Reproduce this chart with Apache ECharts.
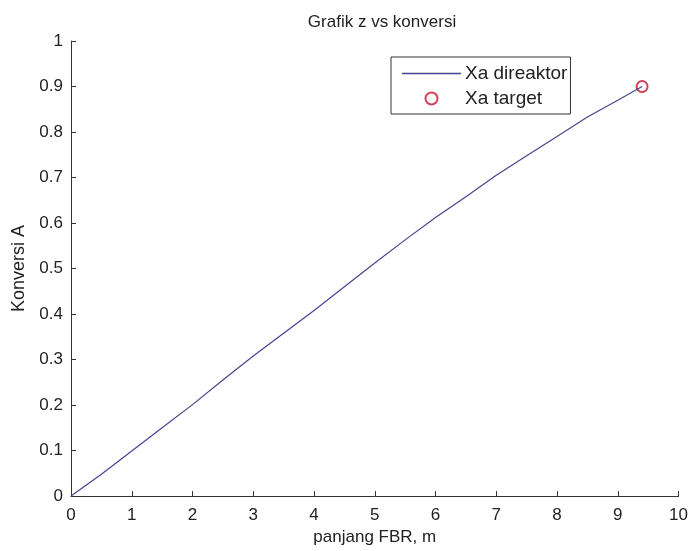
<!DOCTYPE html>
<html>
<head>
<meta charset="utf-8">
<script src="https://cdn.jsdelivr.net/npm/echarts@6/dist/echarts.min.js"></script>
<style>html,body{margin:0;padding:0;background:#fff}#c{width:691px;height:551px}</style>
</head>
<body>
<div id="c"></div>
<script>
var xLen = [0, 0.5, 1, 1.5, 2, 2.5, 3, 3.5, 4, 4.5, 5, 5.5, 6, 6.5, 7, 7.5, 8, 8.5, 9, 9.4];
var xaReaktor = [0, 0.048, 0.099, 0.150, 0.201, 0.255, 0.308, 0.358, 0.408, 0.460, 0.512, 0.563, 0.612, 0.658, 0.705, 0.748, 0.790, 0.833, 0.870, 0.900];
var targetX = [9.4];
var targetY = [0.9];

var lineData = xLen.map(function (x, i) { return [x, xaReaktor[i]]; });
var targetData = targetX.map(function (x, i) { return [x, targetY[i]]; });

var font = 'Liberation Sans, Arial, sans-serif';
var lineColor = '#45458f';
var markColor = '#c8102e';
var chart = echarts.init(document.getElementById('c'));
chart.setOption({
  backgroundColor: '#fff',
  animation: false,
  title: {
    text: 'Grafik z vs konversi',
    left: 377, top: 9, textAlign: 'center',
    textStyle: { fontFamily: font, fontSize: 17, fontWeight: 'normal', color: '#222' }
  },
  legend: {
    left: 391, top: 57, orient: 'vertical',
    padding: [7, 3, 6, 11],
    itemGap: 6,
    itemWidth: 59, itemHeight: 12,
    borderColor: '#333', borderWidth: 1,
    backgroundColor: '#fff',
    textStyle: { fontFamily: font, fontSize: 19, color: '#222', padding: [0, 0, 0, -1] },
    data: [
      { name: 'Xa direaktor', icon: 'path://M0,0H60V1.3H0Z', itemStyle: { color: lineColor } },
      { name: 'Xa target' }
    ]
  },
  grid: { left: 71, right: 10, top: 41, bottom: 54 },
  xAxis: {
    type: 'value', min: 0, max: 10, interval: 1,
    name: 'panjang FBR, m', nameLocation: 'middle', nameGap: 32,
    nameTextStyle: { fontFamily: font, fontSize: 17, color: '#222' },
    axisLine: { show: true, onZero: false, lineStyle: { color: '#333', width: 1 } },
    axisTick: { show: true, inside: true, length: 5, lineStyle: { color: '#333' } },
    axisLabel: { fontFamily: font, fontSize: 17, color: '#222', margin: 11 },
    splitLine: { show: false }
  },
  yAxis: {
    type: 'value', min: 0, max: 1, interval: 0.1,
    name: 'Konversi A', nameLocation: 'middle', nameGap: 37,
    nameTextStyle: { fontFamily: font, fontSize: 18, color: '#222' },
    axisLine: { show: true, onZero: false, lineStyle: { color: '#333', width: 1 } },
    axisTick: { show: true, inside: true, length: 5, lineStyle: { color: '#333' } },
    axisLabel: { fontFamily: font, fontSize: 17, color: '#222', margin: 8,
      formatter: function (v) { return String(Math.round(v * 10) / 10); } },
    splitLine: { show: false }
  },
  series: [
    {
      name: 'Xa direaktor', type: 'line', data: lineData,
      showSymbol: false, symbol: 'none',
      lineStyle: { color: lineColor, width: 1.2 },
      itemStyle: { color: lineColor }
    },
    {
      name: 'Xa target', type: 'scatter', data: targetData,
      symbol: 'emptyCircle', symbolSize: 11,
      itemStyle: { color: markColor, borderColor: markColor, borderWidth: 2.6 }
    }
  ]
});
</script>
</body>
</html>
